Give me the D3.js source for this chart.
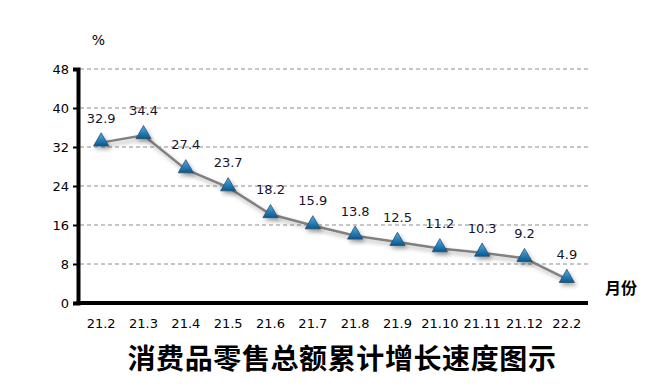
<!DOCTYPE html>
<html>
<head>
<meta charset="utf-8">
<script src="https://cdn.jsdelivr.net/npm/d3@7"></script>
<style>
  body { margin: 0; background: #fff; }
  svg text { font-family: "DejaVu Sans", Verdana, sans-serif; }
  .cjk { font-family: "Noto Sans CJK SC", sans-serif; }
</style>
</head>
<body>
<svg id="chart" width="663" height="387"></svg>
<script>
// 消费品零售总额累计增长速度 (%)
const months = ["21.2", "21.3", "21.4", "21.5", "21.6", "21.7", "21.8", "21.9", "21.10", "21.11", "21.12", "22.2"];
const growth = [32.9, 34.4, 27.4, 23.7, 18.2, 15.9, 13.8, 12.5, 11.2, 10.3, 9.2, 4.9];
const yTicks = [0, 8, 16, 24, 32, 40, 48];

const svg = d3.select("#chart");
const plotL = 80, plotR = 588, plotT = 69, plotB = 303;

const x = d3.scaleBand().domain(months).range([plotL, plotR]);
const y = d3.scaleLinear().domain([0, 48]).range([plotB, plotT]);
const cx = i => x(months[i]) + x.bandwidth() / 2;

const defs = svg.append("defs");
const grad = defs.append("linearGradient")
    .attr("id", "tri").attr("x1", 0).attr("y1", 0).attr("x2", 0).attr("y2", 1);
grad.append("stop").attr("offset", "0%").attr("stop-color", "#4fb0e6");
grad.append("stop").attr("offset", "100%").attr("stop-color", "#08578e");

const shadow = defs.append("filter").attr("id", "shadow")
    .attr("x", "-50%").attr("y", "-50%").attr("width", "200%").attr("height", "200%");
shadow.append("feDropShadow")
    .attr("dx", 2).attr("dy", 3).attr("stdDeviation", 2)
    .attr("flood-color", "#000").attr("flood-opacity", 0.3);

// gridlines (dashed)
svg.append("g")
    .selectAll("line")
    .data(yTicks.filter(d => d > 0))
    .join("line")
    .attr("x1", plotL).attr("x2", plotR)
    .attr("y1", d => y(d)).attr("y2", d => y(d))
    .attr("stroke", "#8c8c8c")
    .attr("stroke-width", 1)
    .attr("stroke-dasharray", "4,3");

// y axis (thick line sits just left of the plot)
const yAxis = svg.append("g")
    .attr("transform", `translate(${plotL - 2},0)`)
    .call(d3.axisLeft(y).tickValues(yTicks).tickSize(5).tickPadding(4));
yAxis.select(".domain").attr("stroke", "#000").attr("stroke-width", 4);
yAxis.selectAll(".tick line").attr("stroke", "#000").attr("stroke-width", 2);
yAxis.selectAll(".tick text")
    .attr("font-size", 13).attr("fill", "#000")
    .attr("font-family", "DejaVu Sans, sans-serif");

// x axis
const xAxis = svg.append("g")
    .attr("transform", `translate(0,${plotB})`)
    .call(d3.axisBottom(x).tickSize(0).tickPadding(16));
xAxis.select(".domain").attr("stroke", "#000").attr("stroke-width", 4)
    .attr("d", `M${plotL - 4},0H${plotR}`);
xAxis.selectAll(".tick text")
    .attr("font-size", 13).attr("fill", "#000")
    .attr("font-family", "DejaVu Sans, sans-serif");

// line
const line = d3.line()
    .x((d, i) => cx(i))
    .y(d => y(d));

svg.append("path")
    .datum(growth)
    .attr("d", line)
    .attr("fill", "none")
    .attr("stroke", "#808080")
    .attr("stroke-width", 2.5)
    .attr("filter", "url(#shadow)");

// triangle markers
const tri = d3.symbol().type(d3.symbolTriangle).size(100);
svg.append("g")
    .selectAll("path")
    .data(growth)
    .join("path")
    .attr("d", tri)
    .attr("transform", (d, i) => `translate(${cx(i)},${y(d) - 1})`)
    .attr("fill", "url(#tri)")
    .attr("stroke", "#2b4f6b")
    .attr("stroke-width", 0.8)
    .attr("filter", "url(#shadow)");

// value labels
svg.append("g")
    .selectAll("text")
    .data(growth)
    .join("text")
    .attr("x", (d, i) => cx(i))
    .attr("y", d => y(d) - 20)
    .attr("text-anchor", "middle")
    .attr("font-size", 13)
    .attr("fill", "#14142e")
    .text(d => d.toFixed(1));

// unit labels
svg.append("text")
    .attr("x", 98.5).attr("y", 45)
    .attr("text-anchor", "middle")
    .attr("font-size", 14)
    .text("%");

svg.append("text")
    .attr("class", "cjk")
    .attr("x", 605).attr("y", 294)
    .attr("font-size", 16)
    .attr("font-weight", "bold")
    .text("月份");

// title
svg.append("text")
    .attr("class", "cjk")
    .attr("x", 342).attr("y", 369)
    .attr("text-anchor", "middle")
    .attr("font-size", 28)
    .attr("font-weight", "bold")
    .attr("letter-spacing", 0.6)
    .text("消费品零售总额累计增长速度图示");
</script>
</body>
</html>
